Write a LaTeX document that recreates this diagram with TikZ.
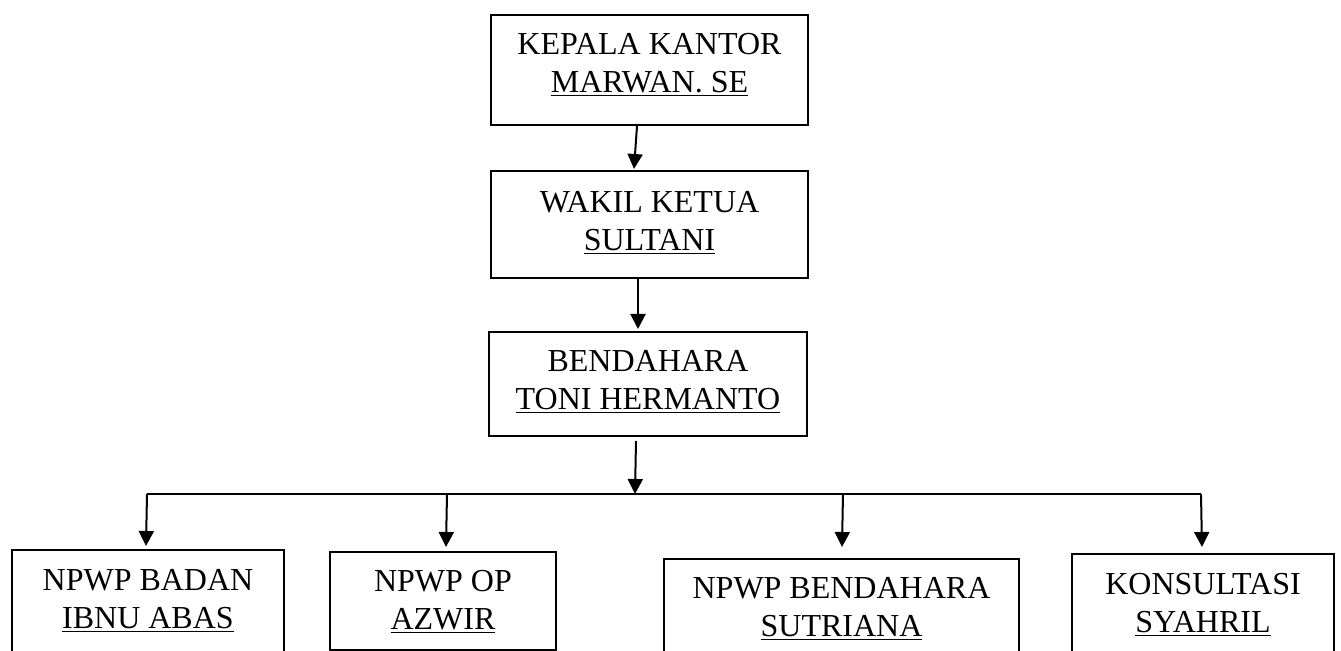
\documentclass[tikz,border=0pt]{standalone}
\usepackage{fontspec}
\setmainfont{Liberation Serif}
\usetikzlibrary{arrows.meta,calc}
\newcommand\myul[1]{\setbox0\hbox{#1}\leavevmode\rlap{\rule[-1.9pt]{\wd0}{0.9pt}}\box0}
\begin{document}
\begin{tikzpicture}[x=0.5pt,y=-0.5pt,
  box/.style={draw, line width=1pt, inner sep=0pt, anchor=north west},
  lbl/.style={anchor=north, inner sep=0pt, align=center, font=\fontsize{16}{19}\selectfont},
  arr/.style={line width=1pt, -{Triangle[width=7.5pt,length=7.5pt]}},
  ln/.style={line width=1pt}]
\fill[white] (0,0) rectangle (1341,651);
\useasboundingbox (0,0) rectangle (1341,651);
\clip (0,0) rectangle (1341,651);

% boxes
\node[box, minimum width=158.5pt, minimum height=55pt]   (kepala)    at (490,14)  {};
\node[box, minimum width=158.5pt, minimum height=53.5pt] (wakil)     at (490,170) {};
\node[box, minimum width=159pt,   minimum height=52pt]   (bendahara) at (488,331) {};
\node[box, minimum width=136pt,   minimum height=75.5pt] (badan)     at (11,549)  {};
\node[box, minimum width=113pt,   minimum height=49pt]   (op)        at (329,551) {};
\node[box, minimum width=177.5pt, minimum height=71pt]   (bend2)     at (663,558) {};
\node[box, minimum width=131pt,   minimum height=73.5pt] (konsul)    at (1071,553) {};

% labels
\node[lbl] (tkepala) at ($(kepala.north)+(0,19)$) {KEPALA KANTOR\\\myul{MARWAN. SE}};
\node[lbl] (twakil) at ($(wakil.north)+(0,21)$) {WAKIL KETUA\\\myul{SULTANI}};
\node[lbl] (tbend) at ($(bendahara.north)+(0,19)$) {BENDAHARA\\\myul{TONI HERMANTO}};
\node[lbl] (tbadan) at ($(badan.north)+(0,20)$) {NPWP BADAN\\\myul{IBNU ABAS}};
\node[lbl] (top) at ($(op.north)+(0,19)$) {NPWP OP\\\myul{AZWIR}};
\node[lbl] (tbend2) at ($(bend2.north)+(0,19)$) {NPWP BENDAHARA\\\myul{SUTRIANA}};
\node[lbl] (tkonsul) at ($(konsul.north)+(0,20)$) {KONSULTASI\\\myul{SYAHRIL}};

% connectors
\draw[arr] ($(kepala.south)+(-12.5,0)$) -- ($(wakil.north)+(-15.5,-1)$);
\draw[arr] ($(wakil.south)+(-11.5,0)$) -- ($(bendahara.north)+(-10,-2)$);
\coordinate (busC) at (635,494);
\coordinate (busL) at (147,494);
\coordinate (busB) at (447,494);
\coordinate (busD) at (843,494);
\coordinate (busR) at (1201,494);
\draw[arr] ($(bendahara.south)+(-12,4)$) -- (busC);
\draw[ln] (busL) -- (busR);
\draw[arr] (busL) -- ($(badan.north)+(-2,-3)$);
\draw[arr] (busB) -- ($(op.north)+(3,-4)$);
\draw[arr] (busD) -- ($(bend2.north)+(0.5,-11)$);
\draw[arr] (busR) -- ($(konsul.north)+(-1,-6)$);
\end{tikzpicture}
\end{document}
